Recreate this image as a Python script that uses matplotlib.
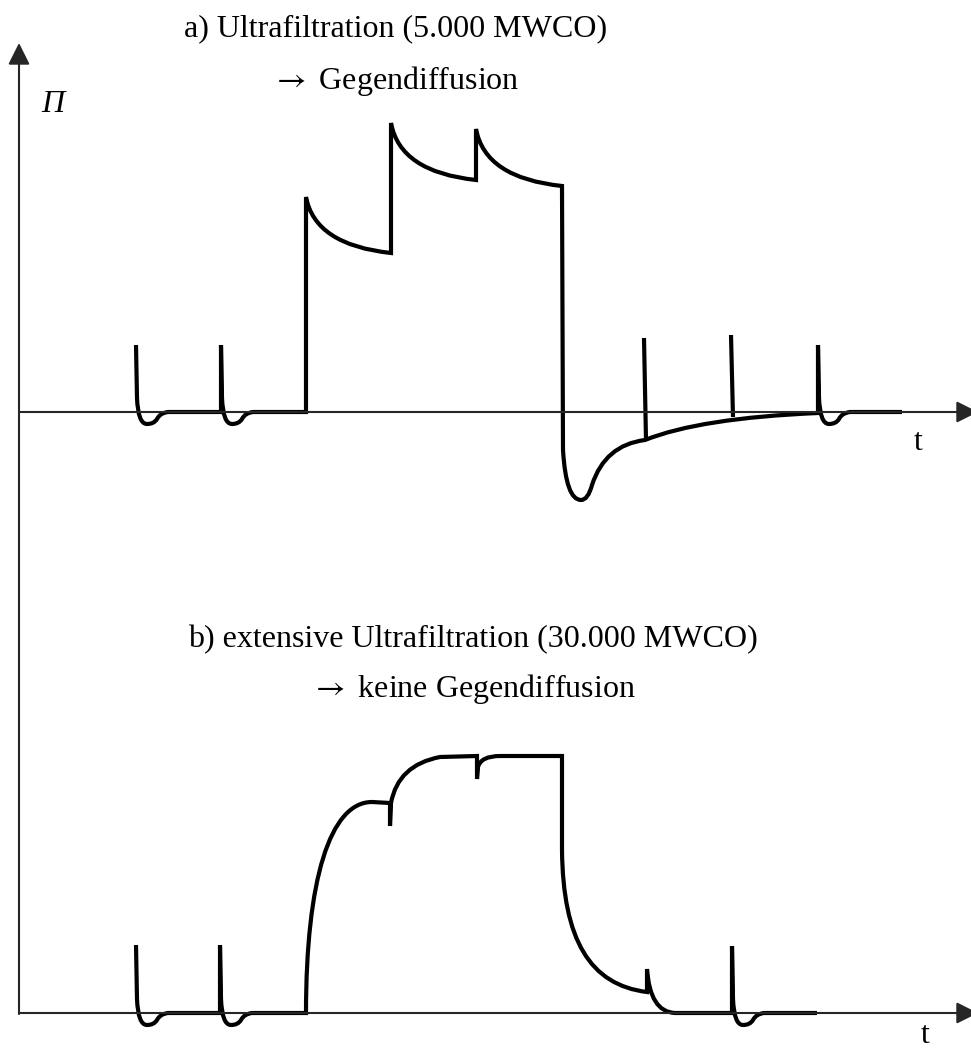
import matplotlib
matplotlib.use('Agg')
from matplotlib import pyplot as plt
from matplotlib.path import Path
from matplotlib.patches import PathPatch

plt.rcParams['mathtext.fontset'] = 'stix'

# canvas in pixel units, y grows downwards
W, H = 971, 1048
BASE_A = 412      # zero line of curve a
BASE_B = 1013     # zero line of curve b
AXIS_X = 19

# M = move, L = line, Q = quadratic bezier (control, end), C = cubic bezier (c1, c2, end)
CURVE_A = [
    ('M', (136, 67)),
    ('L', (137, 14)),
    ('Q', (138, -12), (147, -12)),
    ('Q', (154, -12), (157, -7)),
    ('Q', (160, -1), (168, 0)),
    ('L', (221, 0)),
    ('L', (221, 67)),
    ('L', (222, 14)),
    ('Q', (223, -12), (232, -12)),
    ('Q', (239, -12), (242, -7)),
    ('Q', (245, -1), (253, 0)),
    ('L', (306, 0)),
    ('L', (306, 215)),
    ('Q', (315, 167), (391, 159)),
    ('L', (391, 289)),
    ('Q', (400, 240), (476, 232)),
    ('L', (476, 283)),
    ('Q', (485, 234), (562, 226)),
    ('L', (563, -38)),
    ('Q', (566, -88), (581, -88)),
    ('Q', (588, -88), (592, -73)),
    ('Q', (605, -33), (645, -28)),
    ('Q', (700, -6), (818, -1)),
    ('L', (818, 67)),
    ('L', (819, 14)),
    ('Q', (820, -12), (829, -12)),
    ('Q', (836, -12), (839, -7)),
    ('Q', (842, -1), (850, 0)),
    ('L', (902, 0)),
]
# straight spikes standing on the recovery part of curve a
SPIKES_A = [((644, 74), (646, -28)), ((731, 77), (733, -5))]

CURVE_B = [
    ('M', (136, 68)),
    ('L', (137, 14)),
    ('Q', (138, -12), (147, -12)),
    ('Q', (154, -12), (157, -7)),
    ('Q', (160, -1), (168, 0)),
    ('L', (220, 0)),
    ('L', (220, 68)),
    ('L', (221, 14)),
    ('Q', (222, -12), (231, -12)),
    ('Q', (238, -12), (241, -7)),
    ('Q', (244, -1), (252, 0)),
    ('L', (306, 0)),
    ('C', (306, 133), (330, 211), (372, 211)),
    ('L', (390, 210)),
    ('L', (390, 187)),
    ('L', (391, 210)),
    ('Q', (398, 248), (440, 256)),
    ('L', (477, 257)),
    ('L', (477, 234)),
    ('L', (478, 246)),
    ('Q', (481, 257), (500, 257)),
    ('L', (562, 257)),
    ('L', (562, 163)),
    ('C', (563, 73), (590, 28), (647, 21)),
    ('L', (647, 44)),
    ('Q', (650, 1), (675, 0)),
    ('L', (732, 0)),
    ('L', (732, 67)),
    ('L', (733, 14)),
    ('Q', (734, -12), (743, -12)),
    ('Q', (750, -12), (753, -7)),
    ('Q', (756, -1), (764, 0)),
    ('L', (817, 0)),
]

TITLE_A = ['a) Ultrafiltration (5.000 MWCO)', r'$\rightarrow$ Gegendiffusion']
TITLE_B = ['b) extensive Ultrafiltration (30.000 MWCO)', r'$\rightarrow$ keine Gegendiffusion']
Y_LABEL = '\u03a0'
T_LABEL = 't'

CODES = {'M': Path.MOVETO, 'L': Path.LINETO, 'Q': Path.CURVE3, 'C': Path.CURVE4}
AXIS_COLOR = '#262626'
FONT = ['Liberation Serif', 'DejaVu Serif']


def to_path(segments, base):
    verts, codes = [], []
    for kind, *pts in segments:
        for t, p in pts:
            verts.append((t, base - p))
            codes.append(CODES[kind])
    return Path(verts, codes)


def axis_arrow(ax, start, tip):
    ax.annotate('', xy=tip, xytext=start, annotation_clip=False,
                arrowprops=dict(arrowstyle='-|>,head_length=0.4,head_width=0.2',
                                mutation_scale=33, lw=1.5, color=AXIS_COLOR,
                                shrinkA=0, shrinkB=0))


fig = plt.figure(figsize=(W / 100, H / 100), dpi=100)
ax = fig.add_axes([0, 0, 1, 1])
ax.set_xlim(0, W)
ax.set_ylim(H, 0)
ax.axis('off')

# axes
axis_arrow(ax, (AXIS_X, BASE_B + 1), (AXIS_X, 43))
axis_arrow(ax, (AXIS_X, BASE_A), (978, BASE_A))
axis_arrow(ax, (AXIS_X, BASE_B), (978, BASE_B))

# curves
for segs, base in [(CURVE_A, BASE_A), (CURVE_B, BASE_B)]:
    ax.add_patch(PathPatch(to_path(segs, base), fill=False, lw=3, edgecolor='black',
                           joinstyle='miter', capstyle='butt'))
for (t0, p0), (t1, p1) in SPIKES_A:
    ax.plot([t0, t1], [BASE_A - p0, BASE_A - p1], color='black', lw=3, solid_capstyle='butt')

# texts
txt = dict(family=FONT, fontsize=23, color='black', ha='center', va='baseline')
ax.text(396, 36, TITLE_A[0], **txt)
ax.text(396, 89, TITLE_A[1], **txt)
ax.text(473, 647, TITLE_B[0], **txt)
ax.text(473, 697, TITLE_B[1], **txt)
ax.text(53, 112, Y_LABEL, style='italic', **txt)
ax.text(918, 450, T_LABEL, **txt)
ax.text(925, 1043, T_LABEL, **txt)

fig.savefig('out.png', dpi=100)
